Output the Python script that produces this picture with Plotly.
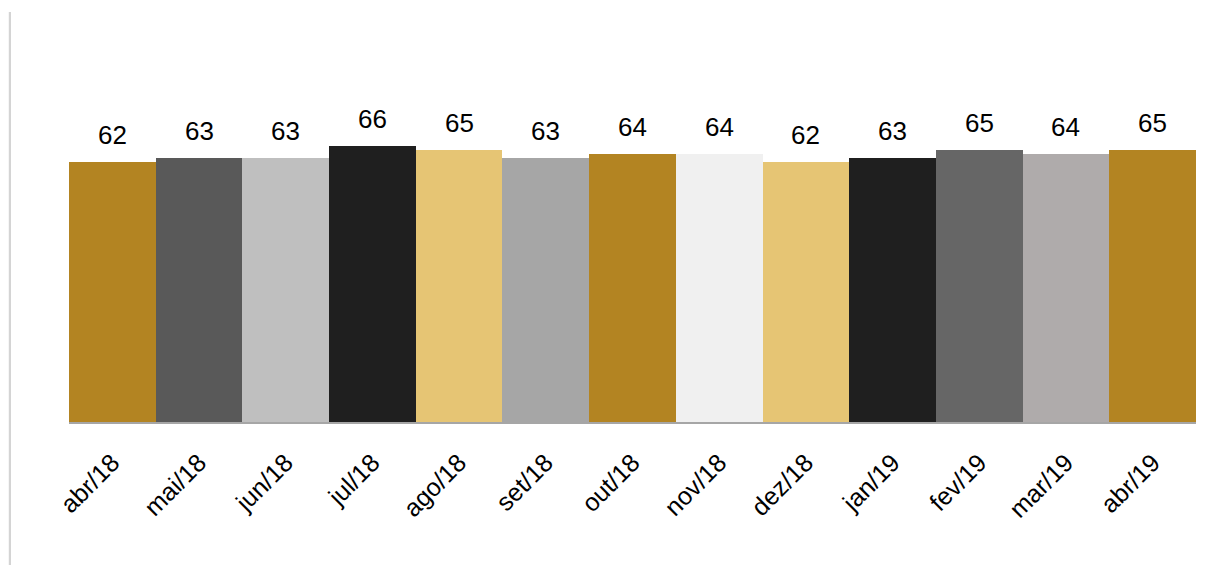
import plotly.graph_objects as go

months = ["abr/18", "mai/18", "jun/18", "jul/18", "ago/18", "set/18", "out/18",
          "nov/18", "dez/18", "jan/19", "fev/19", "mar/19", "abr/19"]
values = [62, 63, 63, 66, 65, 63, 64, 64, 62, 63, 65, 64, 65]
colors = ["#B38422", "#595959", "#BFBFBF", "#1F1F1F", "#E6C574", "#A6A6A6", "#B38422",
          "#F0F0F0", "#E6C574", "#1F1F1F", "#666666", "#AFABAB", "#B38422"]

FONT = "Liberation Sans, Arial, sans-serif"

fig = go.Figure()
fig.add_trace(go.Bar(
    x=months, y=values,
    marker=dict(color=colors, line=dict(width=0)),
    hoverinfo="x+y",
))

for m, v in zip(months, values):
    fig.add_annotation(x=m, y=v, text=str(v), showarrow=False,
                       yanchor="bottom", yshift=10,
                       font=dict(family=FONT, size=26, color="#000000"))

# page has 8px body margin; figure origin sits at (8, 8)
L, R, T, B = 61, 28, 79, 151
W, H = 1216, 565
pw = W - L - R
ph = H - T - B
x_line = (2 - L) / pw
y_bot = -B / ph
y_top = (H - 4 - B) / ph
fig.add_shape(type="rect", xref="paper", yref="paper",
              x0=(-6 - L) / pw, x1=x_line, y0=y_bot, y1=y_top,
              fillcolor="rgba(0,0,0,0.035)", line=dict(width=0), layer="below")
fig.add_shape(type="line", xref="paper", yref="paper",
              x0=x_line, x1=x_line, y0=y_bot, y1=y_top,
              line=dict(color="#D4D4D4", width=2))

fig.update_layout(
    width=W, height=H,
    margin=dict(l=L, r=R, t=T, b=B),
    paper_bgcolor="white", plot_bgcolor="white",
    bargap=0,
    showlegend=False,
    font=dict(family=FONT, color="#000000"),
    xaxis=dict(
        type="category", range=[-0.5, 12.5],
        showline=True, linecolor="#A6A6A6", linewidth=2,
        showgrid=False, zeroline=False,
        tickangle=-45, tickfont=dict(family=FONT, size=25, color="#000000"),
        ticks="outside", ticklen=14, tickcolor="rgba(0,0,0,0)",
    ),
    yaxis=dict(
        range=[0, 80], visible=False, showgrid=False, zeroline=False,
    ),
)

fig.write_html("out.html")
